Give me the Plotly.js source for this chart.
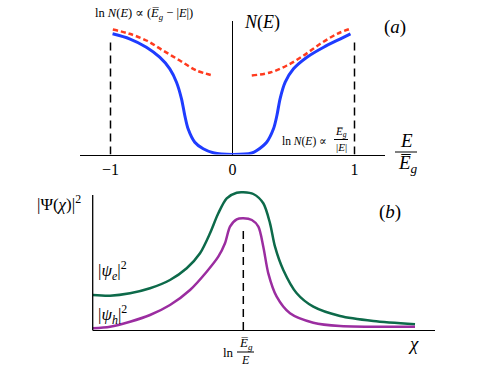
<!DOCTYPE html>
<html>
<head>
<meta charset="utf-8">
<script src="https://cdn.plot.ly/plotly-3.0.1.min.js"></script>
<style>
  html, body { margin: 0; padding: 0; background: #fff; }
  #chart { width: 491px; height: 368px; }
</style>
</head>
<body>
<div id="chart"></div>
<script>
// panel (a): density of states vs E / Eg
const eBlue = [-0.983, -0.844, -0.706, -0.597, -0.514, -0.459, -0.418, -0.391, -0.364, -0.309, -0.240, -0.158, 0,
  0.158, 0.199, 0.280, 0.336, 0.364, 0.390, 0.432, 0.500, 0.610, 0.747, 0.885, 0.967];
const nBlue = [1.207, 1.157, 1.073, 0.973, 0.857, 0.723, 0.557, 0.390, 0.257, 0.123, 0.057, 0.017, 0,
  0.015, 0.040, 0.123, 0.257, 0.390, 0.557, 0.723, 0.857, 0.973, 1.073, 1.157, 1.207];
const eRed = [-0.981, -0.844, -0.706, -0.570, -0.432, -0.295, -0.158, null,
  0.158, 0.309, 0.446, 0.583, 0.720, 0.858, 0.967];
const nRed = [1.250, 1.207, 1.140, 1.040, 0.940, 0.840, 0.790, null,
  0.790, 0.820, 0.890, 0.990, 1.107, 1.207, 1.257];
const tickE = [-1, 0, 1];
const tickELabels = ['\u22121', '0', '1'];

// panel (b): |psi|^2 vs chi
const chiE = [0, 0.505, 1.09, 1.674, 2.258, 2.746, 3.135, 3.427, 3.669, 3.915, 4.207, 4.40,
  4.692, 4.984, 5.18, 5.326, 5.568, 5.96, 6.445, 7.225, 8.198, 9.416];
const psiE = [0.35, 0.343, 0.367, 0.417, 0.50, 0.617, 0.767, 0.967, 1.167, 1.317, 1.373, 1.377,
  1.36, 1.267, 1.067, 0.833, 0.60, 0.367, 0.233, 0.14, 0.09, 0.057];
const chiH = [0, 0.505, 1.09, 1.674, 2.258, 2.843, 3.33, 3.669, 3.865, 4.011, 4.207, 4.40,
  4.65, 4.84, 4.984, 5.13, 5.375, 5.764, 6.445, 7.225, 9.416];
const psiH = [0.017, 0.033, 0.083, 0.15, 0.25, 0.40, 0.583, 0.733, 0.867, 1.033, 1.107, 1.117,
  1.10, 1.033, 0.833, 0.567, 0.333, 0.167, 0.073, 0.04, 0.033];
const chiPeak = 4.40;

const W = 491, H = 368;
const px = (x) => x / W;
const py = (y) => 1 - y / H;
const serif = '"Liberation Serif", "DejaVu Serif", serif';

function label(text, x, y, size, xanchor) {
  return {
    text: text, xref: 'paper', yref: 'paper', x: px(x), y: py(y),
    xanchor: xanchor || 'center', yanchor: 'middle', showarrow: false,
    font: { family: serif, size: size, color: '#000' }
  };
}

function bar(x0, x1, y) {
  return {
    type: 'line', xref: 'paper', yref: 'paper',
    x0: px(x0), x1: px(x1), y0: py(y), y1: py(y),
    line: { color: '#000', width: 1 }
  };
}

const Eg = 'E\u0305';

const traces = [
  {
    x: eRed, y: nRed, xaxis: 'x', yaxis: 'y', mode: 'lines', connectgaps: false,
    line: { color: '#ff3b1f', width: 2.5, dash: '5px,3px', shape: 'spline' },
    hoverinfo: 'skip'
  },
  {
    x: eBlue, y: nBlue, xaxis: 'x', yaxis: 'y', mode: 'lines',
    line: { color: '#1f3cff', width: 3, shape: 'spline', smoothing: 0.8 },
    hoverinfo: 'skip'
  },
  {
    x: chiE, y: psiE, xaxis: 'x2', yaxis: 'y2', mode: 'lines',
    line: { color: '#0d6a4a', width: 2.5, shape: 'spline', smoothing: 0.8 },
    hoverinfo: 'skip'
  },
  {
    x: chiH, y: psiH, xaxis: 'x2', yaxis: 'y2', mode: 'lines',
    line: { color: '#9b2da0', width: 2.5, shape: 'spline', smoothing: 0.8 },
    hoverinfo: 'skip'
  }
];

const layout = {
  width: W, height: H,
  margin: { l: 0, r: 0, t: 0, b: 0 },
  paper_bgcolor: '#fff',
  plot_bgcolor: 'rgba(0,0,0,0)',
  showlegend: false,
  xaxis: {
    domain: [px(80), px(385)], range: [-1.25, 1.25], anchor: 'y',
    showgrid: false, zeroline: true, zerolinecolor: '#000', zerolinewidth: 1.3,
    showline: true, linecolor: '#000', linewidth: 1.3,
    tickvals: tickE, ticktext: tickELabels, ticks: '',
    tickfont: { family: serif, size: 16, color: '#000' }
  },
  yaxis: {
    domain: [py(154.5), py(20.5)], range: [0, 1.34], anchor: 'x',
    showgrid: false, zeroline: false, showticklabels: false, showline: false
  },
  xaxis2: {
    domain: [px(92.7), px(435)], range: [0, 10], anchor: 'y2',
    showgrid: false, zeroline: false, showline: true, linecolor: '#000', linewidth: 1.3,
    showticklabels: false, ticks: ''
  },
  yaxis2: {
    domain: [py(330), py(185)], range: [0, 1.45], anchor: 'x2',
    showgrid: false, zeroline: false, showticklabels: false, showline: false
  },
  shapes: [
    { type: 'line', xref: 'x', yref: 'y', x0: -1, x1: -1, y0: 0, y1: 1.15,
      line: { color: '#000', width: 1.5, dash: '8px,5px' } },
    { type: 'line', xref: 'x', yref: 'y', x0: 1, x1: 1, y0: 0, y1: 1.15,
      line: { color: '#000', width: 1.5, dash: '8px,5px' } },
    { type: 'line', xref: 'paper', yref: 'paper', x0: px(92.7), x1: px(92.7), y0: py(330.5), y1: py(195),
      line: { color: '#000', width: 1.3 } },
    { type: 'line', xref: 'x2', yref: 'y2', x0: chiPeak, x1: chiPeak, y0: 0, y1: 1.0,
      line: { color: '#000', width: 1.5, dash: '8px,5px' } },
    bar(334, 348, 139.5),
    bar(395, 417, 152),
    bar(237, 254, 352)
  ],
  annotations: [
    label('ln <i>N</i>(<i>E</i>) \u221D (<i>' + Eg + '</i><sub><i>g</i></sub> \u2212 |<i>E</i>|)', 144, 14, 12.5),
    label('<i>N</i>(<i>E</i>)', 242, 22, 18, 'left'),
    label('(<i>a</i>)', 395, 27, 19),
    label('ln <i>N</i>(<i>E</i>) \u221D', 304, 141, 11.5),
    label('<i>' + Eg + '</i><sub><i>g</i></sub>', 341, 132, 11),
    label('|<i>E</i>|', 341, 147, 11),
    label('<i>E</i>', 406, 140, 19),
    label('<i>' + Eg + '</i><sub><i>g</i></sub>', 408, 164, 19),
    label('|\u03A8(<i>\u03C7</i>)|<sup>2</sup>', 59, 203, 17),
    label('(<i>b</i>)', 390, 212, 19),
    label('|<i>\u03C8</i><sub><i>e</i></sub>|<sup>2</sup>', 96, 270, 17, 'left'),
    label('|<i>\u03C8</i><sub><i>h</i></sub>|<sup>2</sup>', 96, 314, 17, 'left'),
    label('ln', 228, 352, 13),
    label('<i>' + Eg + '</i><sub><i>g</i></sub>', 246, 343, 13),
    label('<i>E</i>', 245, 360, 12),
    label('<i>\u03C7</i>', 413, 343, 19)
  ]
};

Plotly.newPlot('chart', traces, layout, { staticPlot: true, displayModeBar: false });
</script>
</body>
</html>
